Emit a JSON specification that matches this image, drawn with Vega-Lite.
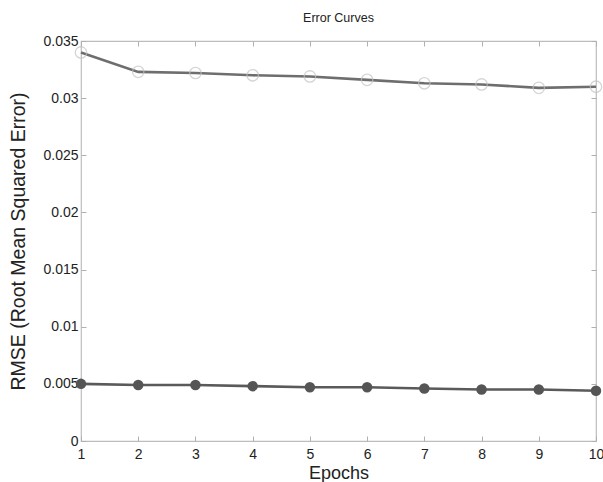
{
  "$schema": "https://vega.github.io/schema/vega-lite/v6.json",
  "width": 515,
  "height": 400,
  "autosize": {"type": "none"},
  "padding": {"left": 81, "top": 41, "right": 7, "bottom": 41},
  "background": "white",
  "title": {"text": "Error Curves", "fontSize": 12.5, "fontWeight": "normal", "font": "Liberation Sans", "color": "#222", "offset": 10},
  "config": {
    "view": {"stroke": "#bdbdbd", "strokeWidth": 1.2},
    "axis": {"domain": false, "grid": false, "tickColor": "#b0b0b0", "tickSize": -5, "tickWidth": 1, "labelFont": "Liberation Sans", "titleFont": "Liberation Sans", "labelColor": "#222", "titleColor": "#222", "titleFontWeight": "normal"}
  },
  "data": {"values": [
    {"epoch": 1, "series": "train", "rmse": 0.0340},
    {"epoch": 2, "series": "train", "rmse": 0.0323},
    {"epoch": 3, "series": "train", "rmse": 0.0322},
    {"epoch": 4, "series": "train", "rmse": 0.0320},
    {"epoch": 5, "series": "train", "rmse": 0.0319},
    {"epoch": 6, "series": "train", "rmse": 0.0316},
    {"epoch": 7, "series": "train", "rmse": 0.0313},
    {"epoch": 8, "series": "train", "rmse": 0.0312},
    {"epoch": 9, "series": "train", "rmse": 0.0309},
    {"epoch": 10, "series": "train", "rmse": 0.0310},
    {"epoch": 1, "series": "test", "rmse": 0.0050},
    {"epoch": 2, "series": "test", "rmse": 0.0049},
    {"epoch": 3, "series": "test", "rmse": 0.0049},
    {"epoch": 4, "series": "test", "rmse": 0.0048},
    {"epoch": 5, "series": "test", "rmse": 0.0047},
    {"epoch": 6, "series": "test", "rmse": 0.0047},
    {"epoch": 7, "series": "test", "rmse": 0.0046},
    {"epoch": 8, "series": "test", "rmse": 0.0045},
    {"epoch": 9, "series": "test", "rmse": 0.0045},
    {"epoch": 10, "series": "test", "rmse": 0.0044}
  ]},
  "resolve": {"axis": {"x": "independent", "y": "independent"}},
  "layer": [
    {
      "transform": [{"filter": "datum.series === 'train'"}],
      "mark": {"type": "line", "color": "#6e6e6e", "strokeWidth": 2.6},
      "encoding": {
        "x": {"field": "epoch", "type": "quantitative", "scale": {"domain": [1, 10], "nice": false, "zero": false},
          "axis": {"values": [1,2,3,4,5,6,7,8,9,10], "title": "Epochs", "labelFontSize": 14, "titleFontSize": 18, "labelPadding": 11, "titlePadding": 3, "labelFlush": false}},
        "y": {"field": "rmse", "type": "quantitative", "scale": {"domain": [0, 0.035], "nice": false},
          "axis": {"values": [0, 0.005, 0.01, 0.015, 0.02, 0.025, 0.03, 0.035], "format": "~g", "title": "RMSE (Root Mean Squared Error)", "labelFontSize": 14, "titleFontSize": 19.5, "labelPadding": 8, "titlePadding": 14}}
      }
    },
    {
      "transform": [{"filter": "datum.series === 'test'"}],
      "mark": {"type": "line", "color": "#5a5a5a", "strokeWidth": 2.6},
      "encoding": {
        "x": {"field": "epoch", "type": "quantitative", "axis": null},
        "y": {"field": "rmse", "type": "quantitative", "axis": null}
      }
    },
    {
      "transform": [{"filter": "datum.series === 'train'"}],
      "mark": {"type": "point", "shape": "circle", "filled": false, "color": "#c4c4c4", "size": 130, "strokeWidth": 1.3},
      "encoding": {
        "x": {"field": "epoch", "type": "quantitative", "axis": null},
        "y": {"field": "rmse", "type": "quantitative", "axis": null}
      }
    },
    {
      "transform": [{"filter": "datum.series === 'test'"}],
      "mark": {"type": "point", "shape": "circle", "filled": true, "color": "#555555", "size": 110, "opacity": 1},
      "encoding": {
        "x": {"field": "epoch", "type": "quantitative", "axis": {"orient": "top", "values": [1,2,3,4,5,6,7,8,9,10], "labels": false, "title": ""}},
        "y": {"field": "rmse", "type": "quantitative", "axis": {"orient": "right", "values": [0, 0.005, 0.01, 0.015, 0.02, 0.025, 0.03, 0.035], "labels": false, "title": ""}}
      }
    }
  ]
}
